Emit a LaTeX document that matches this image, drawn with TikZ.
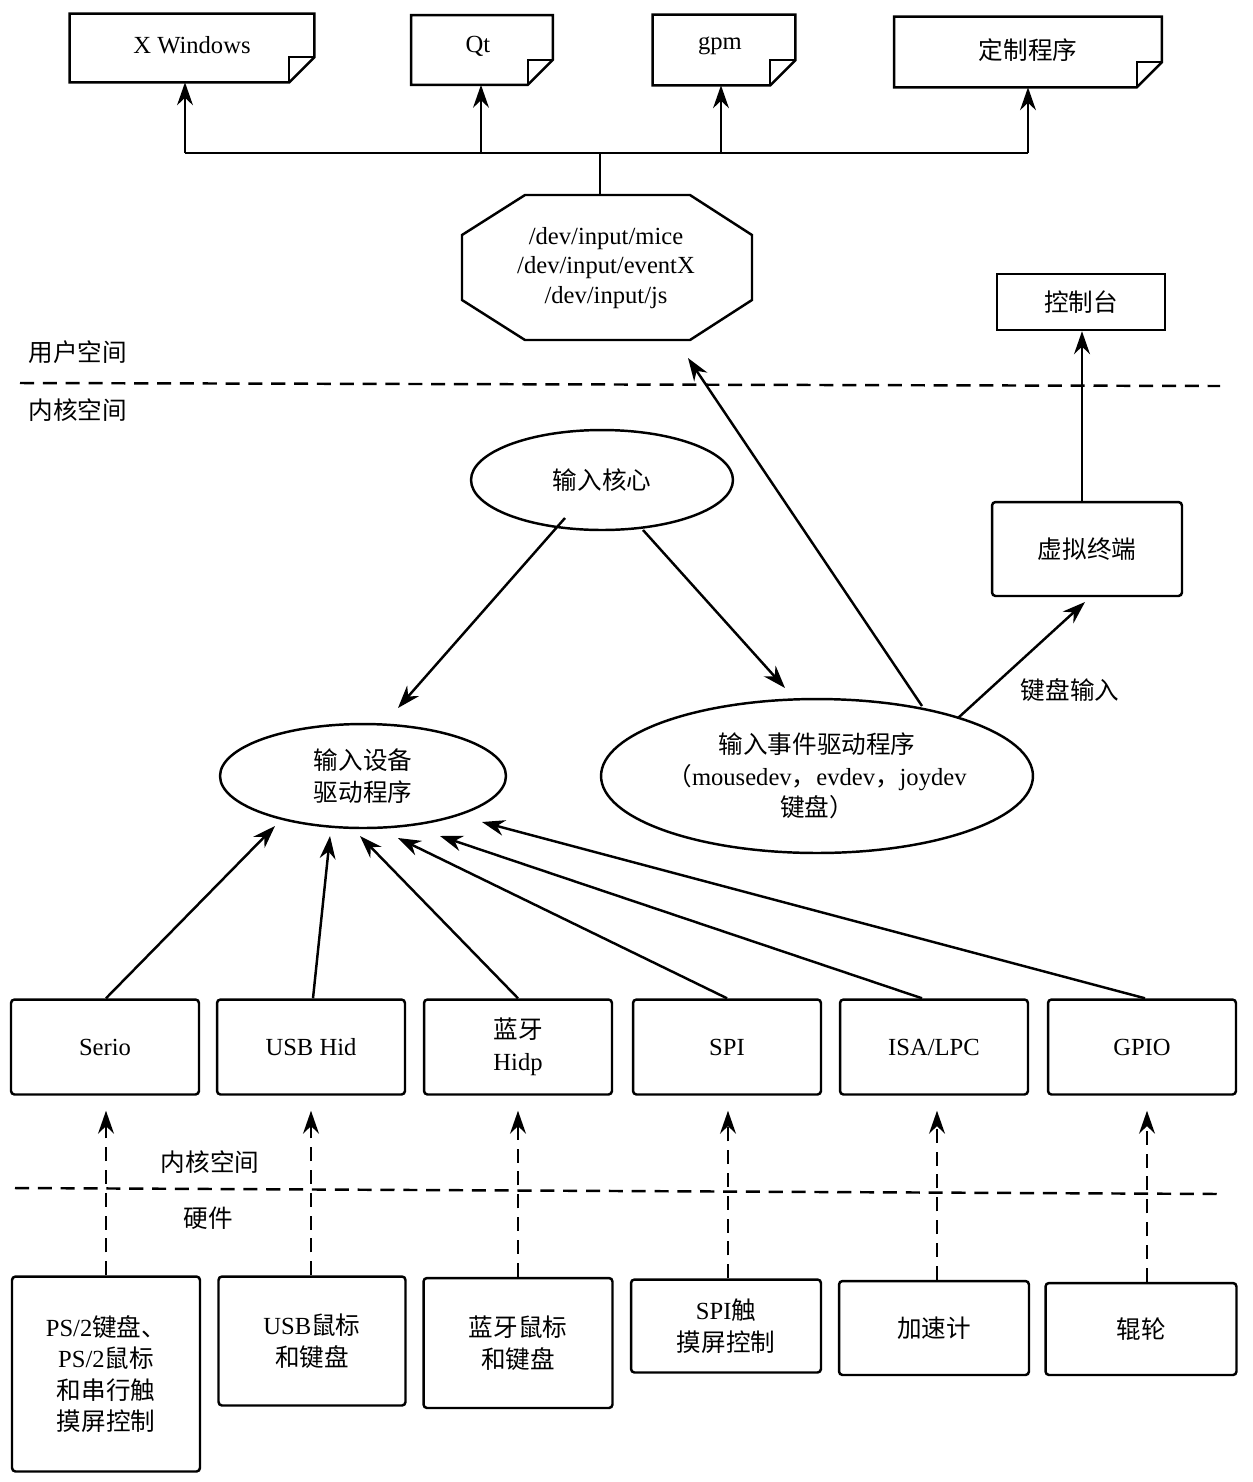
\documentclass[tikz,border=0pt]{standalone}
\usepackage{fontspec}
\setmainfont{Liberation Serif}
\newfontfamily\cjk{Noto Sans CJK SC}
\usetikzlibrary{positioning,shapes.geometric,arrows.meta}
\tikzset{
  box/.style={draw,line width=1.4pt,rounded corners=2pt,align=center,inner sep=0pt},
  doc/.style={align=center,inner sep=0pt},
  oval/.style={draw,line width=1.4pt,ellipse,align=center,inner sep=0pt},
  arr/.style={line width=1.4pt,-{Stealth[length=13pt,width=9pt]}},
  darr/.style={arr,dash pattern=on 8pt off 5pt},
  sep/.style={line width=1.4pt,dash pattern=on 8pt off 5pt},
}
\newcommand\docbox[4]{% name, center, width, height
  \node[doc,minimum width=#3cm,minimum height=#4cm] (#1) at (#2) {};
}
\newcommand\fold[1]{%
  \draw[line width=1.4pt] (#1.north west) -- (#1.north east) -- ([yshift=0.5cm]#1.south east)
    -- ([xshift=-0.5cm]#1.south east) -- (#1.south west) -- cycle;
  \draw[line width=1.2pt] ([yshift=0.5cm]#1.south east) -- ([xshift=-0.5cm,yshift=0.5cm]#1.south east)
    -- ([xshift=-0.5cm]#1.south east);
}
\begin{document}
\begin{tikzpicture}[x=0.02cm,y=-0.02cm,font=\fontsize{14}{18}\selectfont]
	\useasboundingbox (0,0) rectangle (1252,1482);
	
	% applications
	\docbox{xwin}{192,48}{4.88}{1.36}
	\docbox{qt}{482,50}{2.82}{1.38}
	\docbox{gpm}{724,50}{2.84}{1.4}
	\docbox{cust}{1028,52}{5.34}{1.4}
	\foreach \n in {xwin,qt,gpm,cust} {\fold{\n}}
	\node at (192,45) {X Windows};
	\node at (478,46) {Qt};
	\node at (720,46) {gpm};
	\node at (1028,50) {\cjk 定制程序};
	
	\node[align=center,inner sep=0pt,minimum width=5.84cm,minimum height=2.9cm] (dev) at (606,268)
	  {/dev/input/mice\\[-1pt]/dev/input/eventX\\[-1pt]/dev/input/js};
	\draw[line width=1.4pt] (525,195) -- (690,195) -- (752,235) -- (752,300) -- (690,340)
	  -- (525,340) -- (462,300) -- (462,235) -- cycle;
	
	\coordinate (bus) at (600,153);
	\draw[line width=1.4pt] (bus |- dev.north) -- (bus);
	\draw[line width=1.4pt] (185,153) -- (1028,153);
	\foreach \n/\x in {xwin/185,qt/481,gpm/721,cust/1028}
	  \draw[arr] (\x,153) -- (\n.south -| \x,153);
	
	\node[box,rounded corners=0pt,minimum width=3.36cm,minimum height=1.12cm] (con) at (1081,302) {\cjk 控制台};
	
	% user / kernel
	\node at (78,352) {\cjk 用户空间};
	\draw[sep] (20,383) -- (1220,386);
	\node at (78,410) {\cjk 内核空间};
	
	\node[oval,minimum width=5.24cm,minimum height=2cm] (core) at (602,480) {\cjk 输入核心};
	\node[oval,minimum width=5.72cm,minimum height=2.08cm] (drv) at (363,776) {\cjk 输入设备\\\cjk 驱动程序};
	\node[oval,minimum width=8.64cm,minimum height=3.08cm] (evt) at (817,776)
	  {\cjk 输入事件驱动程序\\{\cjk （}mousedev{\cjk ，}evdev{\cjk ，}joydev\\\cjk 键盘）};
	\node[box,minimum width=3.8cm,minimum height=1.88cm] (vt) at (1087,549) {\cjk 虚拟终端};
	
	\draw[arr] (565,518) -- (398,708);
	\draw[arr] (643,530) -- (785,688);
	\draw[arr] (922,706) -- (688,358);
	\draw[arr] (958,718) -- (1085,602);
	\node (kbd) at (1070,690) {\cjk 键盘输入};
	\draw[arr] (vt.north -| 1082,0) -- (con.south -| 1082,0);
	
	% interfaces
	\foreach \n/\x/\t in {serio/105/Serio,usb/311/USB Hid,bt/518/{{\cjk 蓝牙}\\Hidp},spi/727/SPI,isa/934/{ISA/LPC},gpio/1142/GPIO}
	  \node[box,minimum width=3.76cm,minimum height=1.9cm] (\n) at (\x,1047) {\t};
	\foreach \n/\x/\ex/\ey in {serio/106/275/826,usb/313/330/836,bt/518/360/836,spi/727/398/838,isa/922/440/836,gpio/1145/482/822}
	  \draw[arr] (\n.north -| \x,0) -- (\ex,\ey);
	
	% kernel / hardware
	\node at (210,1162) {\cjk 内核空间};
	\draw[sep] (15,1188) -- (1220,1194);
	\node at (208,1218) {\cjk 硬件};
	
	\node[box,minimum width=3.76cm,minimum height=3.9cm] (ps2) at (106,1374) {PS/2{\cjk 键盘、}\\PS/2{\cjk 鼠标}\\\cjk 和串行触\\\cjk 摸屏控制};
	\node[box,minimum width=3.74cm,minimum height=2.58cm] (usbm) at (312,1341) {USB{\cjk 鼠标}\\\cjk 和键盘};
	\node[box,minimum width=3.78cm,minimum height=2.6cm] (btm) at (518,1343) {\cjk 蓝牙鼠标\\\cjk 和键盘};
	\node[box,minimum width=3.8cm,minimum height=1.86cm] (spit) at (726,1326) {SPI{\cjk 触}\\\cjk 摸屏控制};
	\node[box,minimum width=3.8cm,minimum height=1.88cm] (acc) at (934,1328) {\cjk 加速计};
	\node[box,minimum width=3.82cm,minimum height=1.84cm] (roll) at (1141,1329) {\cjk 辊轮};
	\foreach \a/\b/\x in {ps2/serio/106,usbm/usb/311,btm/bt/518,spit/spi/728,acc/isa/937,roll/gpio/1147}
	  \draw[darr] (\a.north -| \x,0) -- ([yshift=-0.3cm]\b.south -| \x,0);
\end{tikzpicture}
\end{document}
